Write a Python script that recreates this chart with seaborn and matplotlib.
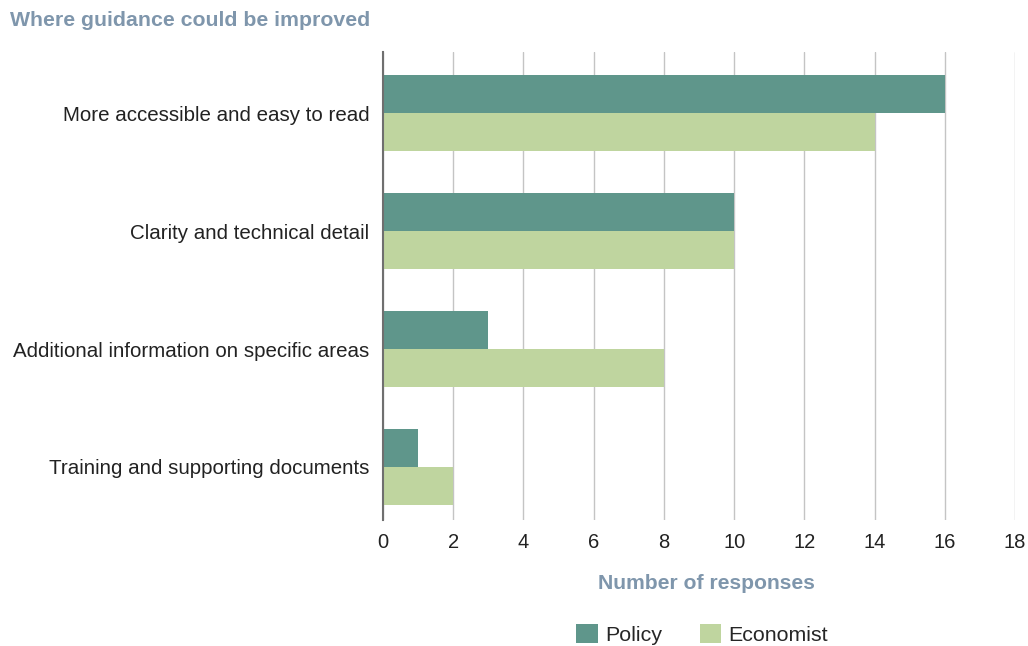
import matplotlib
matplotlib.use("Agg")
import matplotlib.pyplot as plt
from matplotlib.patches import Patch
import seaborn as sns
import pandas as pd

categories = [
    "More accessible and easy to read",
    "Clarity and technical detail",
    "Additional information on specific areas",
    "Training and supporting documents",
]
policy = [16, 10, 3, 1]
economist = [14, 10, 8, 2]
series_names = ["Policy", "Economist"]
x_ticks = [0, 2, 4, 6, 8, 10, 12, 14, 16, 18]

df = pd.DataFrame({
    "category": categories * 2,
    "responses": policy + economist,
    "group": [series_names[0]] * len(categories) + [series_names[1]] * len(categories),
})

sns.set_theme(style="white")
plt.rcParams["font.family"] = ["Liberation Sans", "DejaVu Sans"]

fig = plt.figure(figsize=(10.28, 6.46), dpi=100)
ax = fig.add_axes([0.3726, 0.195, 0.6148, 0.7245])

palette = {"Policy": "#5f968b", "Economist": "#bfd59f"}
sns.barplot(data=df, y="category", x="responses", hue="group", order=categories,
            hue_order=series_names, palette=palette, width=0.644, saturation=1,
            orient="h", ax=ax, legend=False, linewidth=0, edgecolor="none")

ax.set_xlim(0, 18)
ax.set_ylim(3.45, -0.52)
ax.set_xticks(x_ticks)
ax.set_xticklabels([str(t) for t in x_ticks], fontsize=14.5, color="#222222")
ax.tick_params(axis="y", labelsize=14.8, labelcolor="#222222", length=0, pad=10)
ax.tick_params(axis="x", length=0, pad=9)
ax.xaxis.grid(True, color="#c4c4c4", linewidth=1.0)
ax.set_axisbelow(True)
for s in ["top", "right", "bottom"]:
    ax.spines[s].set_visible(False)
ax.spines["left"].set_color("#6f6f6f")
ax.spines["left"].set_linewidth(1.5)
ax.set_ylabel("")
ax.set_xlabel("Number of responses", fontsize=15.2, fontweight="bold",
              color="#7f96ac", labelpad=13)
ax.xaxis.set_label_coords(0.511, -0.115)

fig.text(0.0097, 0.968, "Where guidance could be improved", fontsize=15.3,
         fontweight="bold", color="#7f96ac", ha="left", va="center")

handles = [Patch(facecolor=palette[n], edgecolor="none") for n in series_names]
fig.legend(handles, series_names, loc="center", bbox_to_anchor=(0.683, 0.018),
           ncol=2, frameon=False, fontsize=15.4, handlelength=1.0, handleheight=1.0,
           handletextpad=0.35, columnspacing=1.75)

fig.savefig("out.png", dpi=100)
